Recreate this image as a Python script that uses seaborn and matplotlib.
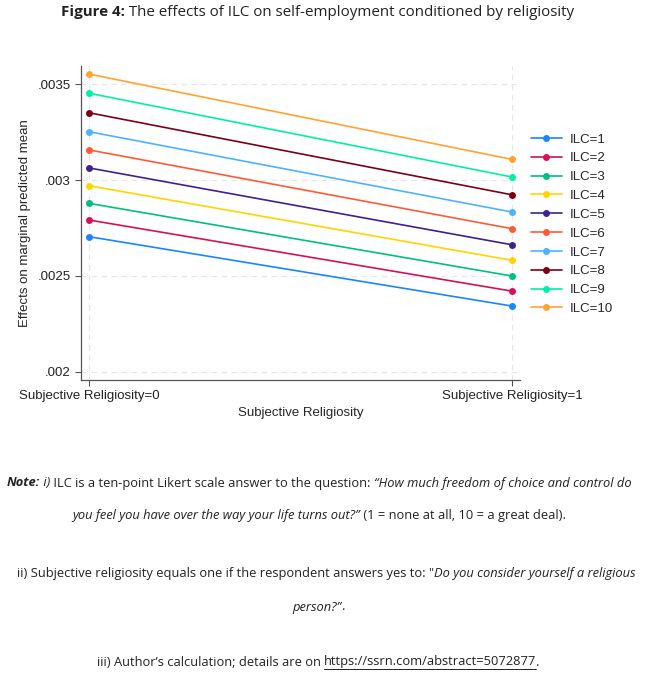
import numpy as np
import pandas as pd
import matplotlib
matplotlib.use("Agg")
import matplotlib.pyplot as plt
from matplotlib.lines import Line2D
import seaborn as sns

# ----------------------------
# DATA
# ----------------------------
relig_values = [0, 1]
relig_labels = ["Subjective Religiosity=0", "Subjective Religiosity=1"]
ilc_levels = ["ILC=1", "ILC=2", "ILC=3", "ILC=4", "ILC=5",
              "ILC=6", "ILC=7", "ILC=8", "ILC=9", "ILC=10"]
effect_relig0 = [0.002704, 0.002791, 0.002878, 0.002970, 0.003063,
                 0.003157, 0.003252, 0.003351, 0.003453, 0.003553]
effect_relig1 = [0.002342, 0.002420, 0.002499, 0.002581, 0.002662,
                 0.002746, 0.002833, 0.002923, 0.003016, 0.003108]
y_ticks = [0.002, 0.0025, 0.003, 0.0035]
y_ticklabels = [".002", ".0025", ".003", ".0035"]

ilc_colors = ["#1a85ff", "#d41159", "#00bf7f", "#ffd400", "#40228c",
              "#ff5a36", "#4db3ff", "#7a0019", "#00f0a8", "#ffa333"]

df = pd.DataFrame({
    "relig": relig_values * len(ilc_levels),
    "ILC": [lvl for lvl in ilc_levels for _ in relig_values],
    "effect": [v for pair in zip(effect_relig0, effect_relig1) for v in pair],
})

# ----------------------------
# FIGURE
# ----------------------------
sns.set_style("white")
CHART_FONT = ["Liberation Sans", "DejaVu Sans"]
TEXT_FONT = ["Open Sans", "DejaVu Sans"]
plt.rcParams["font.family"] = CHART_FONT
FS = 9.5

W, H = 654, 677
fig = plt.figure(figsize=(W / 100, H / 100), dpi=100)
ax = fig.add_axes([80.7 / W, 1 - 380 / H, (520 - 80.7) / W, (380 - 65.7) / H])

sns.lineplot(data=df, x="relig", y="effect", hue="ILC", hue_order=ilc_levels,
             palette=ilc_colors, marker="o", markersize=5, markeredgewidth=0,
             linewidth=1.2, ax=ax, legend=True)

ax.set_xlim(-0.0205, 1.019)
ax.set_ylim(0.001956, 0.003597)
ax.set_xticks(relig_values)
ax.set_xticklabels(relig_labels, fontsize=FS)
ax.set_yticks(y_ticks)
ax.set_yticklabels(y_ticklabels, fontsize=FS)
ax.set_xlabel("Subjective Religiosity", fontsize=FS, labelpad=4)
ax.set_ylabel("Effects on marginal predicted mean", fontsize=FS, labelpad=5)
ax.grid(True, linestyle=(0, (5, 4)), color="#e6e6e6", linewidth=0.8)
ax.tick_params(axis="both", direction="out", length=4, width=0.8,
               color="#555555", labelcolor="#222222", pad=3,
               bottom=True, left=True)
for side in ["top", "right"]:
    ax.spines[side].set_visible(False)
for side in ["left", "bottom"]:
    ax.spines[side].set_color("#555555")
    ax.spines[side].set_linewidth(0.9)

# legend outside on the right
handles, labels = ax.get_legend_handles_labels()
ax.get_legend().remove()
fig.legend(handles, labels, loc="upper left",
           bbox_to_anchor=(526 / W, 1 - 128 / H), frameon=False,
           fontsize=FS, handlelength=2.3, handletextpad=0.6,
           labelspacing=0.5, borderaxespad=0)

# ----------------------------
# TITLE & NOTES (mixed-style runs)
# ----------------------------
renderer = fig.canvas.get_renderer()


def draw_runs(runs, y_px, cx_px, size, underline=None):
    texts = []
    for s, weight, style in runs:
        t = fig.text(0, 1 - y_px / H, s, fontsize=size, family=TEXT_FONT,
                     fontweight=weight, fontstyle=style, va="center",
                     ha="left", color="#222222")
        texts.append(t)
    widths = [t.get_window_extent(renderer).width for t in texts]
    x = cx_px - sum(widths) / 2
    for i, (t, w) in enumerate(zip(texts, widths)):
        t.set_x(x / W)
        if underline is not None and i == underline:
            uy = 1 - (y_px + size * 0.8) / H
            fig.add_artist(Line2D([x / W, (x + w) / W], [uy, uy],
                                  color="#222222", linewidth=0.7))
        x += w


draw_runs([("Figure 4:", "bold", "normal"),
           (" The effects of ILC on self-employment conditioned by religiosity",
            "normal", "normal")], 12, 318, 10.9)

NOTE = 9.3
draw_runs([("Note:", "bold", "italic"), (" i)", "normal", "italic"),
           (" ILC is a ten-point Likert scale answer to the question: ", "normal", "normal"),
           ("\u201cHow much freedom of choice and control do", "normal", "italic")],
          483, 319, NOTE)
draw_runs([("you feel you have over the way your life turns out?\u201d", "normal", "italic"),
           (" (1 = none at all, 10 = a great deal).", "normal", "normal")],
          516, 319, NOTE)
draw_runs([("ii) Subjective religiosity equals one if the respondent answers yes to: \"", "normal", "normal"),
           ("Do you consider yourself a religious", "normal", "italic")],
          573, 326, NOTE)
draw_runs([("person?\u201d", "normal", "italic"), (".", "normal", "normal")],
          607, 319, NOTE)
draw_runs([("iii) Author\u2019s calculation; details are on ", "normal", "normal"),
           ("https://ssrn.com/abstract=5072877", "normal", "normal"),
           (".", "normal", "normal")],
          662, 318, NOTE, underline=1)

fig.savefig("out.png", dpi=100)
